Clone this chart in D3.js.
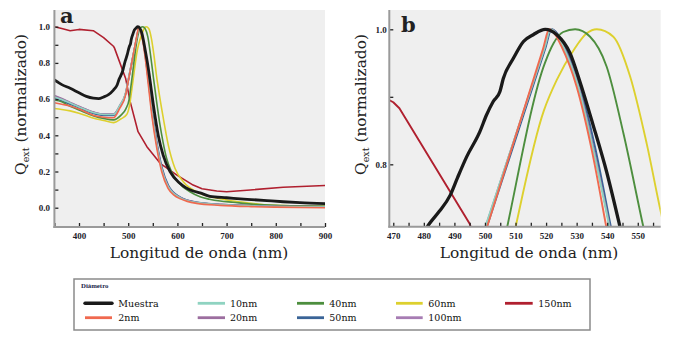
<!DOCTYPE html>
<html><head><meta charset="utf-8">
<script src="https://cdn.jsdelivr.net/npm/d3@7"></script>
<style>body{margin:0;background:#fff}svg{display:block}</style>
</head><body><svg id="c" width="674" height="343"></svg>
<script>
// ---- data: [wavelength nm, normalized Qext] ----
const muestra = [[350,0.706],[365,0.68],[382,0.66],[400,0.635],[415,0.615],[429,0.605],[440,0.603],[450,0.612],[460,0.625],[470,0.65],[477,0.675],[481.8,0.712],[485,0.73],[488.6,0.754],[491,0.78],[494,0.811],[498.3,0.848],[500.5,0.873],[502.7,0.893],[504.9,0.908],[506,0.927],[509.3,0.957],[512.6,0.982],[515.8,0.992],[519.7,1.0],[523.5,0.992],[527.8,0.965],[531.1,0.922],[535.4,0.858],[539.8,0.789],[544.1,0.709],[551,0.57],[561,0.40],[571,0.29],[585,0.199],[605,0.135],[632,0.092],[646,0.082],[666,0.063],[700,0.055],[714,0.052],[750,0.045],[782,0.039],[815,0.033],[849,0.028],[900,0.023]];
const nm2 = [[350,0.58],[365,0.572],[382,0.562],[400,0.545],[430,0.51],[450,0.5],[470,0.497],[483,0.55],[495,0.625],[499,0.683],[519,0.971],[521,1.0],[523,0.992],[525,0.975],[530,0.915],[535,0.82],[540,0.70],[548,0.51],[558,0.33],[568,0.2],[581,0.107],[593,0.07],[605,0.05],[620,0.035],[639,0.024],[687,0.013],[750,0.006],[800,0.003],[900,0.0]];
const nm10 = [[350,0.612],[365,0.598],[382,0.578],[400,0.557],[430,0.525],[450,0.515],[470,0.515],[483,0.565],[495,0.637],[499,0.692],[519.5,0.9725],[521.5,1.0],[523.5,0.992],[525.5,0.975],[530.5,0.915],[535.5,0.82],[540.5,0.712],[548.5,0.52],[558.5,0.34],[568.5,0.21],[581.5,0.115],[605,0.056],[640,0.028],[690,0.016],[800,0.007],[900,0.004]];
const nm20 = [[350,0.62],[365,0.603],[382,0.582],[400,0.56],[430,0.528],[450,0.517],[470,0.517],[483,0.565],[495,0.636],[499,0.691],[519.5,0.9726],[521.5,1.0],[523.5,0.993],[525.5,0.976],[530.5,0.917],[535.5,0.823],[540.5,0.715],[548.5,0.525],[558.5,0.345],[568.5,0.213],[581.5,0.118],[605,0.058],[640,0.029],[690,0.017],[800,0.008],[900,0.005]];
const nm40 = [[350,0.595],[365,0.585],[382,0.56],[400,0.54],[430,0.507],[450,0.493],[470,0.485],[485,0.51],[495,0.545],[502,0.60],[505.5,0.67],[519.6,0.95],[522.4,0.979],[525.6,0.996],[529.5,1.0],[534.4,0.989],[539.8,0.945],[545.3,0.846],[551.6,0.712],[558,0.58],[564.6,0.457],[571,0.36],[578,0.273],[588,0.2],[598.6,0.153],[610,0.118],[625.6,0.088],[646,0.06],[665,0.047],[687,0.037],[713,0.03],[750,0.02],[800,0.013],[900,0.008]];
const nm50 = [[350,0.605],[365,0.59],[382,0.572],[400,0.552],[430,0.52],[450,0.51],[470,0.51],[483,0.56],[495,0.63],[499,0.685],[519.8,0.9724],[521.8,1.0],[523.8,0.993],[526,0.976],[531,0.918],[536,0.826],[541,0.712],[549,0.525],[559,0.35],[569,0.22],[582,0.122],[605,0.06],[640,0.03],[690,0.018],[800,0.009],[900,0.006]];
const nm60 = [[350,0.548],[365,0.543],[382,0.535],[400,0.522],[430,0.494],[450,0.482],[470,0.47],[485,0.49],[497,0.515],[503,0.57],[507,0.646],[519.3,0.88],[523.5,0.925],[529,0.969],[533.3,0.994],[536.6,1.0],[542,0.989],[547.5,0.93],[552.9,0.831],[557.9,0.722],[561,0.665],[571,0.50],[581.5,0.346],[595,0.218],[612,0.144],[639,0.088],[660,0.065],[687,0.05],[713,0.037],[750,0.025],[781,0.015],[900,0.009]];
const nm100 = [[350,0.617],[365,0.6],[382,0.58],[400,0.558],[430,0.527],[450,0.516],[470,0.516],[483,0.564],[495,0.634],[499,0.689],[519.6,0.9725],[521.6,1.0],[523.6,0.993],[525.6,0.976],[530.6,0.917],[535.6,0.823],[540.6,0.714],[548.6,0.524],[558.6,0.344],[568.6,0.212],[581.6,0.117],[605,0.057],[640,0.029],[690,0.017],[800,0.008],[900,0.005]];
const nm150 = [[350,1.0],[365,0.99],[382,0.978],[400,0.985],[429,0.978],[450,0.94],[470,0.892],[472,0.883],[495,0.712],[504,0.586],[520,0.42],[538,0.337],[565,0.245],[599,0.18],[632,0.125],[650,0.105],[680,0.092],[700,0.088],[748,0.098],[815,0.113],[900,0.123]];

const seriesNames  = ["Muestra","2nm","10nm","20nm","40nm","50nm","60nm","100nm","150nm"];
const seriesData   = [muestra, nm2, nm10, nm20, nm40, nm50, nm60, nm100, nm150];
const seriesColors = ["#1a1a1a","#f0694f","#8fd3c1","#9c6e9f","#4d8e3e","#3a6497","#ddd02e","#a77cb3","#b0202f"];
const drawOrder = [8,7,6,5,4,3,2,1,0];

// ticks
const xTicksA = [400,500,600,700,800,900];
const xMinorA = [350,450,550,650,750,850];
const yTicksA = [0.0,0.2,0.4,0.6,0.8,1.0];
const yMinorA = [0.1,0.3,0.5,0.7,0.9];
const xTicksB = [470,480,490,500,510,520,530,540,550];
const xMinorB = [475,485,495,505,515,525,535,545,555];
const yTicksB = [0.8,1.0];
const yMinorB = [0.9];

const svg = d3.select("#c");
const FONT = "'DejaVu Serif', serif";
const TICKFONT = "'Liberation Serif', serif";

const panels = [
 {lab:"a", L:54.4, R:325, T:10, B:227, xd:[350,900], yd:[-0.1066,1.0923], xt:xTicksA, xm:xMinorA, yt:yTicksA, ym:yMinorA, lx:60, ly:22.7, ypad:4.4, titleX:199, yTitleX:25.5, bw:2.8, cw:1.6},
 {lab:"b", L:389.3, R:660.7, T:10, B:226.7, xd:[468.7,557.5], yd:[0.7076,1.0286], xt:xTicksB, xm:xMinorB, yt:yTicksB, ym:yMinorB, lx:401, ly:32.3, ypad:2.6, titleX:529, yTitleX:365.5, bw:3.3, cw:1.9}
];

panels.forEach((p,pi)=>{
  const x = d3.scaleLinear().domain(p.xd).range([p.L,p.R]);
  const y = d3.scaleLinear().domain(p.yd).range([p.B,p.T]);
  const g = svg.append("g");
  g.append("rect").attr("x",p.L).attr("y",p.T).attr("width",p.R-p.L).attr("height",p.B-p.T).attr("fill","#efefef");
  const cid = "clip"+pi;
  svg.append("clipPath").attr("id",cid).append("rect").attr("x",p.L).attr("y",p.T).attr("width",p.R-p.L).attr("height",p.B-p.T);
  const lines = g.append("g").attr("clip-path",`url(#${cid})`);
  const smooth = d3.line().x(d=>x(d[0])).y(d=>y(d[1])).curve(d3.curveMonotoneX);
  const straight = d3.line().x(d=>x(d[0])).y(d=>y(d[1]));
  drawOrder.forEach(i=>{
    lines.append("path").attr("d",(i===8?straight:smooth)(seriesData[i])).attr("fill","none")
      .attr("stroke",seriesColors[i]).attr("stroke-width", i===0?p.bw:p.cw)
      .attr("stroke-linejoin","round").attr("stroke-linecap","round");
  });
  const xa = g.append("g").attr("transform",`translate(0,${p.B})`)
    .call(d3.axisBottom(x).tickValues(p.xt).tickSizeInner(-4).tickSizeOuter(0).tickPadding(5.5).tickFormat(d3.format("d")));
  const xm = g.append("g").attr("transform",`translate(0,${p.B})`)
    .call(d3.axisBottom(x).tickValues(p.xm).tickSizeInner(-4).tickSizeOuter(0).tickFormat(""));
  const ya = g.append("g").attr("transform",`translate(${p.L},0)`)
    .call(d3.axisLeft(y).tickValues(p.yt).tickSizeInner(-4).tickSizeOuter(0).tickPadding(p.ypad).tickFormat(d3.format(".1f")));
  const ymn = g.append("g").attr("transform",`translate(${p.L},0)`)
    .call(d3.axisLeft(y).tickValues(p.ym).tickSizeInner(-4).tickSizeOuter(0).tickFormat(""));
  [xa,xm,ya,ymn].forEach(a=>{
    a.select(".domain").remove();
    a.selectAll(".tick line").attr("stroke","#222").attr("stroke-width",1.3);
    a.selectAll("text").attr("font-family",TICKFONT).attr("font-weight","bold").attr("font-size",9).attr("fill","#1c1c2a");
  });
  g.append("line").attr("x1",p.L).attr("x2",p.L).attr("y1",p.T).attr("y2",p.B+1).attr("stroke","#9a9a9a").attr("stroke-width",2);
  g.append("line").attr("x1",p.L-1).attr("x2",p.R).attr("y1",p.B).attr("y2",p.B).attr("stroke","#9a9a9a").attr("stroke-width",2);
  g.append("text").attr("x",p.lx).attr("y",p.ly).text(p.lab).attr("font-family",FONT).attr("font-weight","bold").attr("font-size",21).attr("fill","#222");
  g.append("text").attr("x",p.titleX).attr("y",258.3).attr("text-anchor","middle").attr("font-family",FONT).attr("font-size",15.4).attr("fill","#222")
    .text("Longitud de onda (nm)");
  const yt = g.append("text").attr("transform",`translate(${p.yTitleX},104.5) rotate(-90)`).attr("text-anchor","middle")
    .attr("font-family",FONT).attr("font-size",15.4).attr("fill","#222");
  yt.append("tspan").text("Q");
  yt.append("tspan").text("ext").attr("font-size",9.5).attr("dy",3);
  yt.append("tspan").text(" (normalizado)").attr("dy",-3);
});

// legend
const leg = svg.append("g");
leg.append("rect").attr("x",74).attr("y",279).attr("width",516).attr("height",51).attr("fill","#fff").attr("stroke","#8a8a8a").attr("stroke-width",1.5);
leg.append("text").attr("x",81).attr("y",288.3).text("Diámetro").attr("font-family",TICKFONT).attr("font-weight","bold").attr("font-size",6.8).attr("fill","#1b1f4b");
const colX = [[85,112,118.3],[197.7,225,230],[297,324,329.3],[396,422.7,428.3],[505,532.7,538.3]];
const rowY = [303.3,317.7];
seriesNames.forEach((n,i)=>{
  const c = Math.floor(i/2), r = i%2;
  const [x1,x2,tx] = colX[c];
  leg.append("line").attr("x1",x1).attr("x2",x2).attr("y1",rowY[r]).attr("y2",rowY[r])
    .attr("stroke",seriesColors[i]).attr("stroke-width",i===0?3.4:2.8).attr("stroke-linecap",i===0?"round":"butt");
  leg.append("text").attr("x",tx).attr("y",rowY[r]+3.6).text(n).attr("font-family",FONT).attr("font-size",9.5).attr("fill","#111");
});
</script></body></html>
